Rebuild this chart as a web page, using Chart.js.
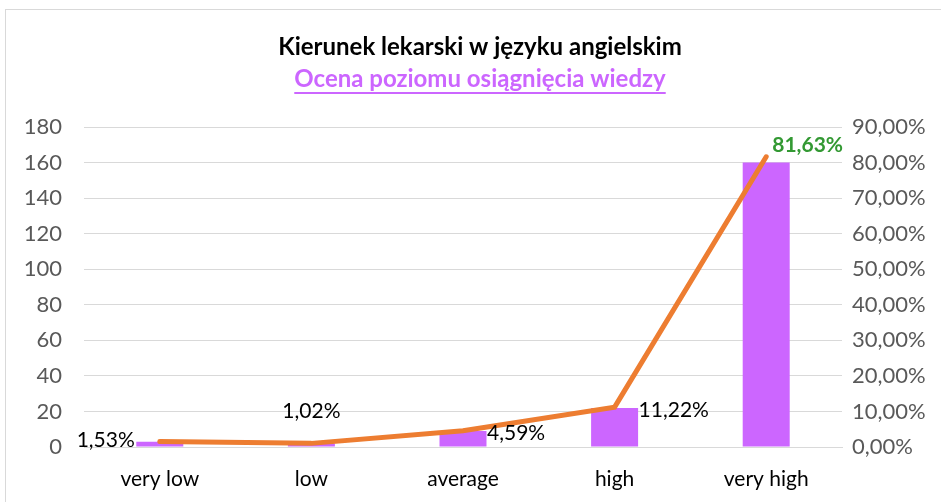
<!DOCTYPE html>
<html lang="pl">
<head>
  <meta charset="UTF-8">
  <title>Kierunek lekarski w języku angielskim</title>
  <script src="https://cdn.jsdelivr.net/npm/chart.js"></script>
  <style>
    html, body { margin: 0; padding: 0; background: #fff; }
    #wrap { position: relative; width: 941px; height: 502px; }
  </style>
</head>
<body>
  <div id="wrap"><canvas id="chart"></canvas></div>

  <script>
    const categories = ['very low', 'low', 'average', 'high', 'very high'];
    const counts = [3, 2, 9, 22, 160];
    const shares = [0.0153, 0.0102, 0.0459, 0.1122, 0.8163];
    const shareLabels = ['1,53%', '1,02%', '4,59%', '11,22%', '81,63%'];

    const FONT = 'Lato, "Open Sans", sans-serif';
    const pct = v => (v * 100).toFixed(2).replace('.', ',') + '%';

    // frame + titles (subtitle is underlined like in Excel)
    const decor = {
      id: 'decor',
      beforeDraw(chart) {
        const c = chart.ctx;
        c.save();
        c.strokeStyle = '#d9d9d9';
        c.lineWidth = 1;
        c.strokeRect(5.5, 9.5, 960, 520);
        c.restore();
      },
      afterDraw(chart) {
        const c = chart.ctx;
        c.save();
        c.textAlign = 'center';
        c.textBaseline = 'middle';
        c.font = 'bold 24px ' + FONT;
        c.fillStyle = '#000';
        c.fillText('Kierunek lekarski w języku angielskim', 480, 47);
        c.fillStyle = '#cc66ff';
        const sub = 'Ocena poziomu osiągnięcia wiedzy';
        c.fillText(sub, 480, 79);
        const w = c.measureText(sub).width;
        c.fillRect(480 - w / 2, 92, w, 2);
        c.restore();
      }
    };

    // percentage labels next to the line points
    const lineLabels = {
      id: 'lineLabels',
      afterDatasetsDraw(chart) {
        const meta = chart.getDatasetMeta(1);
        const c = chart.ctx;
        c.save();
        c.textBaseline = 'middle';
        meta.data.forEach((pt, i) => {
          const txt = shareLabels[i];
          let x = pt.x, y = pt.y;
          c.font = '21px ' + FONT;
          c.fillStyle = '#000';
          c.textAlign = 'left';
          if (i === 0) { c.textAlign = 'right'; x -= 25; y -= 1; }
          else if (i === 1) { c.textAlign = 'center'; y -= 32; }
          else if (i === 4) { c.font = 'bold 21px ' + FONT; c.fillStyle = '#339933'; x += 6; y -= 12; }
          else { x += 24; y += 3; }
          c.fillText(txt, x, y);
        });
        c.restore();
      }
    };

    new Chart(document.getElementById('chart'), {
      data: {
        labels: categories,
        datasets: [
          {
            type: 'bar',
            data: counts,
            backgroundColor: '#cc66ff',
            yAxisID: 'y',
            barPercentage: 0.31,
            categoryPercentage: 1,
            order: 2
          },
          {
            type: 'line',
            data: shares,
            borderColor: '#ed7d31',
            borderWidth: 5,
            borderCapStyle: 'round',
            pointRadius: 0,
            tension: 0,
            yAxisID: 'y2',
            order: 1
          }
        ]
      },
      options: {
        responsive: true,
        maintainAspectRatio: false,
        animation: false,
        layout: { padding: { top: 127, left: 0, right: 0, bottom: 0 } },
        plugins: {
          legend: { display: false },
          tooltip: { enabled: false }
        },
        scales: {
          x: {
            grid: { display: false },
            border: { color: '#d9d9d9' },
            ticks: { color: '#000', font: { family: FONT, size: 21 }, padding: 12 },
            afterFit: s => { s.height = 55; }
          },
          y: {
            position: 'left',
            min: 0, max: 180,
            ticks: { stepSize: 20, color: '#595959', font: { family: FONT, size: 22 }, padding: 22 },
            grid: { color: '#d9d9d9', drawTicks: false },
            border: { display: false },
            afterFit: s => { s.width = 84; }
          },
          y2: {
            position: 'right',
            min: 0, max: 0.9,
            ticks: { stepSize: 0.1, color: '#595959', font: { family: FONT, size: 22 }, padding: 10,
                     callback: v => pct(v) },
            grid: { display: false, drawTicks: false },
            border: { display: false },
            afterFit: s => { s.width = 99; }
          }
        }
      },
      plugins: [decor, lineLabels]
    });
  </script>
</body>
</html>
